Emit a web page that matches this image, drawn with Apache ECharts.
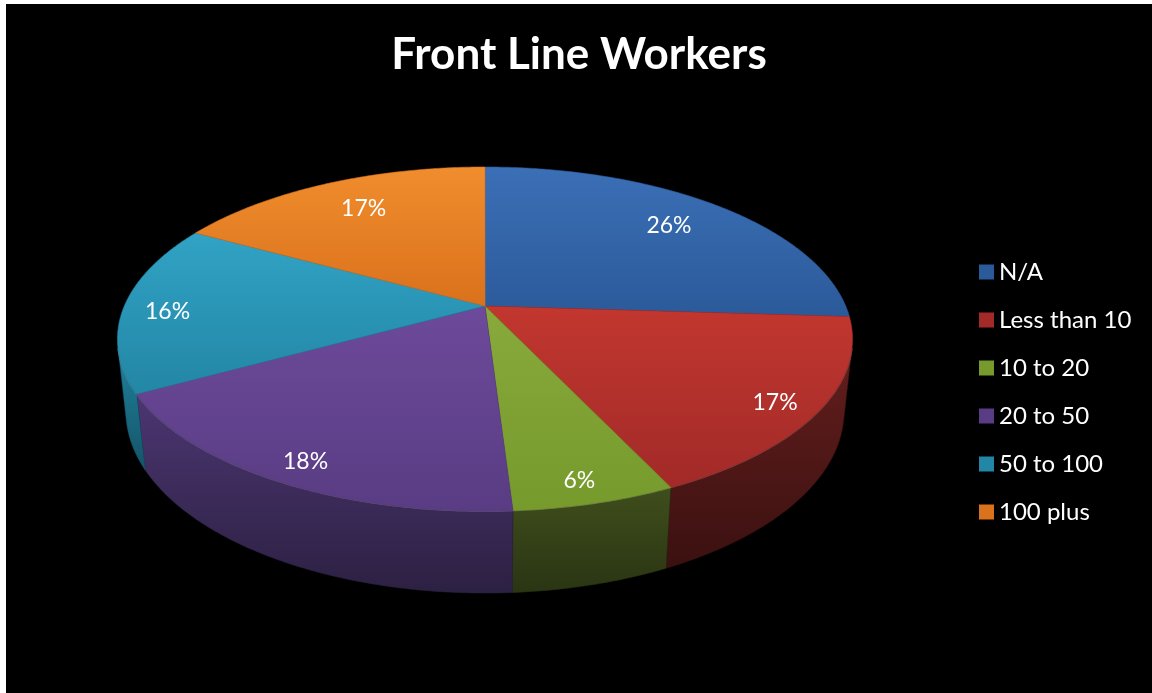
<!DOCTYPE html>
<html>
<head>
<meta charset="utf-8">
<script src="https://cdn.jsdelivr.net/npm/echarts@6/dist/echarts.min.js"></script>
<style>
  html, body { margin: 0; padding: 0; background: #ffffff; width: 1152px; height: 693px; overflow: hidden; }
  #chart { position: absolute; left: 6px; top: 4px; width: 1146px; height: 689px; }
</style>
</head>
<body>
<div id="chart"></div>
<script>
// Survey answers: number of front line workers
const categories = ['N/A', 'Less than 10', '10 to 20', '20 to 50', '50 to 100', '100 plus'];
const shares = [26, 17, 6, 18, 16, 17];

// Face colours: [lighter, darker] for the top face and the outer wall of each slice
const topColors = [
  ['#3B6FB6', '#2B5A9A'],
  ['#C2372F', '#A22A28'],
  ['#89A93B', '#769A2C'],
  ['#6D4A9B', '#593C83'],
  ['#31A3C5', '#2386A5'],
  ['#F08D2D', '#DA711C']
];
const wallColors = [
  ['#1F3F6A', '#14294A'],
  ['#641E1D', '#3A1110'],
  ['#3F4E1C', '#2A3513'],
  ['#4C3672', '#2C2042'],
  ['#20829E', '#145468'],
  ['#8A4F18', '#5A330F']
];

const total = shares.reduce((a, b) => a + b, 0);
const startOf = shares.map((_, i) => shares.slice(0, i).reduce((a, b) => a + b, 0));

// Perspective camera looking down on a unit-radius disc
const tilt = 27.35 * Math.PI / 180;
const view = {
  cx: 479, cy: 302,       // where the disc centre lands on the canvas
  k: 1669.3,              // focal scale
  D: 4.628,               // camera distance
  s: Math.sin(tilt), c: Math.cos(tilt),
  t: 0.227                // disc thickness
};

function project(x, y, z) {
  const depth = view.D - y * view.s + z * view.c;
  const up = y * view.c + z * view.s;
  return [view.cx + view.k * x / depth, view.cy - view.k * up / depth];
}
// phi measured clockwise from the far side of the disc
function rim(phi, r, y) {
  return project(r * Math.sin(phi), y, r * Math.cos(phi));
}
function arc(a0, a1, r, y) {
  const n = Math.max(2, Math.ceil(Math.abs(a1 - a0) / (Math.PI / 360)));
  const pts = [];
  for (let j = 0; j <= n; j++) pts.push(rim(a0 + (a1 - a0) * j / n, r, y));
  return pts;
}

// Outer wall faces the camera where cos(phi) < -1/(D*c)
const wallFrom = Math.acos(-1 / (view.D * view.c));
const wallTo = 2 * Math.PI - wallFrom;

function grad(pair) {
  return new echarts.graphic.LinearGradient(0, 0, 0, 1, [
    { offset: 0, color: pair[0] },
    { offset: 1, color: pair[1] }
  ]);
}

function makeRenderer(idx) {
  return function (params, api) {
    const value = api.value(0);
    const before = api.value(1);
    const a0 = before / total * 2 * Math.PI;
    const a1 = (before + value) / total * 2 * Math.PI;
    const children = [];

    // outer wall (front-facing part only)
    const lo = Math.max(a0, wallFrom), hi = Math.min(a1, wallTo);
    if (hi > lo) {
      const topEdge = arc(lo, hi, 1, 0);
      const bottomEdge = arc(hi, lo, 1, -view.t);
      children.push({
        type: 'polygon',
        shape: { points: topEdge.concat(bottomEdge) },
        style: { fill: grad(wallColors[idx]), stroke: wallColors[idx][1], lineWidth: 0.5 },
        z2: 1
      });
      children.push({
        type: 'polyline',
        shape: { points: topEdge },
        style: { stroke: 'rgba(255,255,255,0.22)', lineWidth: 1.5, fill: null },
        z2: 2
      });
    }

    // top face
    const face = [project(0, 0, 0)].concat(arc(a0, a1, 1, 0));
    children.push({
      type: 'polygon',
      shape: { points: face },
      style: { fill: grad(topColors[idx]), stroke: topColors[idx][1], lineWidth: 0.6 },
      z2: 3
    });

    // percentage label on the top face: pulled in on the far side, nudged down at the front
    const mid = (a0 + a1) / 2;
    const back = Math.max(Math.cos(mid), 0);
    const r = 0.88 - 0.16 * back;
    const p = rim(mid, r, 0);
    children.push({
      type: 'text',
      style: {
        text: Math.round(value / total * 100) + '%',
        x: p[0], y: p[1] + 6 - 11 * back,
        fill: '#ffffff',
        fontFamily: 'Lato',
        fontSize: 23,
        align: 'center',
        verticalAlign: 'middle'
      },
      z2: 4
    });

    return { type: 'group', children: children };
  };
}

const chart = echarts.init(document.getElementById('chart'));
chart.setOption({
  backgroundColor: '#000000',
  animation: false,
  title: {
    text: 'Front Line Workers',
    left: 'center',
    top: 24,
    textStyle: { color: '#ffffff', fontFamily: 'Lato', fontWeight: 'bold', fontSize: 44 }
  },
  legend: {
    orient: 'vertical',
    left: 968,
    top: 251,
    itemWidth: 15,
    itemHeight: 15,
    itemGap: 24,
    icon: 'rect',
    selectedMode: false,
    textStyle: { color: '#ffffff', fontFamily: 'Lato', fontSize: 24, lineHeight: 24 },
    data: categories
  },
  series: categories.map((name, i) => ({
    type: 'custom',
    name: name,
    coordinateSystem: 'none',
    itemStyle: { color: topColors[i][1] },
    renderItem: makeRenderer(i),
    data: [[shares[i], startOf[i]]]
  }))
});
</script>
</body>
</html>
